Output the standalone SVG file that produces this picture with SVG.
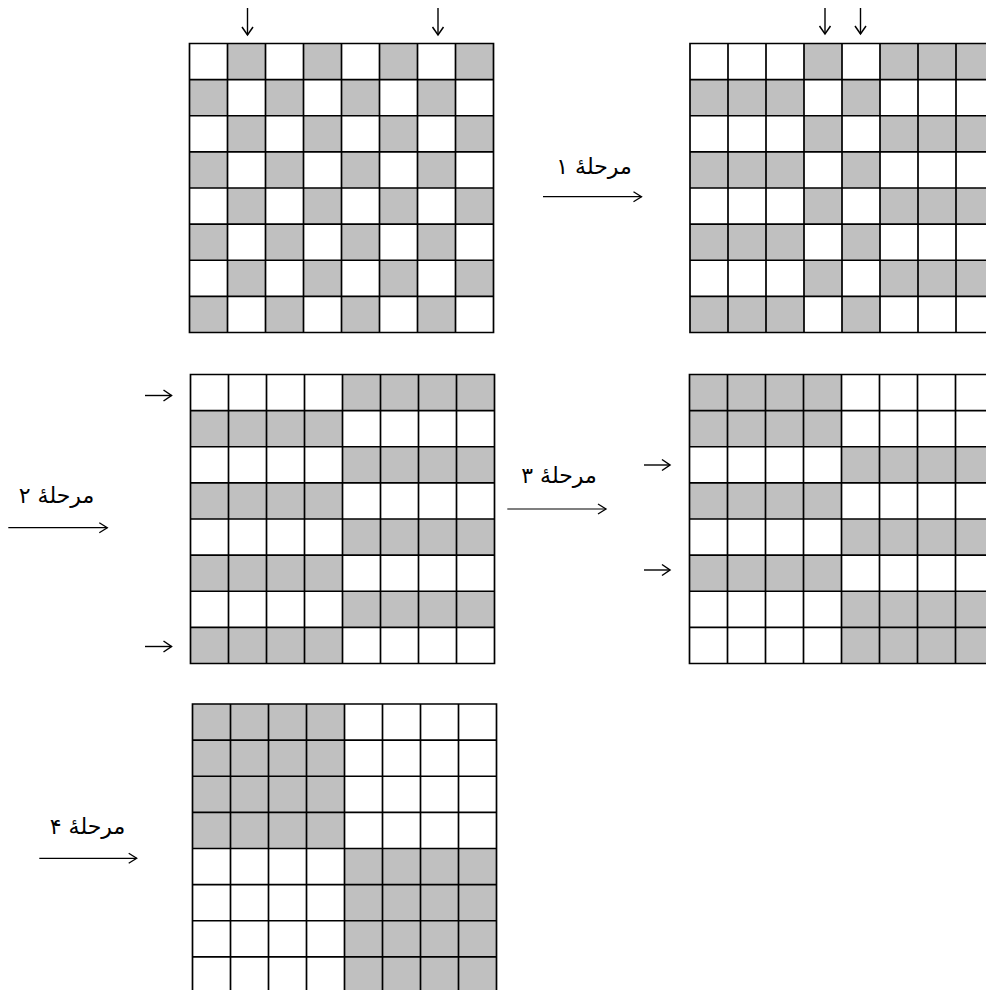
<svg xmlns="http://www.w3.org/2000/svg" width="986" height="990" viewBox="0 0 986 990">
<style>
.g{fill:#c0c0c0}
.ln{fill:none;stroke:#000;stroke-width:1.7}
.ar{fill:none;stroke:#000;stroke-width:1.2;marker-end:url(#ah)}
.sa{fill:none;stroke:#000;stroke-width:1.4;marker-end:url(#ah2)}
.lb{font-family:"DejaVu Sans","Noto Sans",sans-serif;font-size:22px;fill:#000;text-anchor:middle}
</style>
<defs>
<marker id="ah" markerUnits="userSpaceOnUse" markerWidth="12" markerHeight="12" refX="9" refY="6" orient="auto"><path d="M1,1 L9,6 L1,11" fill="none" stroke="#000" stroke-width="1.3"/></marker>
<marker id="ah2" markerUnits="userSpaceOnUse" markerWidth="12" markerHeight="14" refX="9" refY="7" orient="auto"><path d="M1,1.5 L9,7 L1,12.5" fill="none" stroke="#000" stroke-width="1.5"/></marker>
<path id="lines" class="ln" d="M0,0H304V289H0Z M38,0V289M76,0V289M114,0V289M152,0V289M190,0V289M228,0V289M266,0V289 M0,36.125H304M0,72.25H304M0,108.375H304M0,144.5H304M0,180.625H304M0,216.75H304M0,252.875H304"/>
<g id="ckA" class="g"><rect x="38" width="38" height="36.125"/><rect x="114" width="38" height="36.125"/><rect x="190" width="38" height="36.125"/><rect x="266" width="38" height="36.125"/></g>
<g id="ckB" class="g"><rect x="0" width="38" height="36.125"/><rect x="76" width="38" height="36.125"/><rect x="152" width="38" height="36.125"/><rect x="228" width="38" height="36.125"/></g>
<g id="s2A" class="g"><rect x="114" width="38" height="36.125"/><rect x="190" width="114" height="36.125"/></g>
<g id="s2B" class="g"><rect x="0" width="114" height="36.125"/><rect x="152" width="38" height="36.125"/></g>
<rect id="hL" class="g" x="0" width="152" height="36.125"/>
<rect id="hR" class="g" x="152" width="152" height="36.125"/>
</defs>
<rect width="986" height="990" fill="#fff"/>

<g id="grid0" transform="translate(189.5,43.5)">
<use href="#ckA" y="0"/><use href="#ckB" y="36.125"/><use href="#ckA" y="72.25"/><use href="#ckB" y="108.375"/>
<use href="#ckA" y="144.5"/><use href="#ckB" y="180.625"/><use href="#ckA" y="216.75"/><use href="#ckB" y="252.875"/>
<use href="#lines"/>
</g>

<g id="grid1" transform="translate(690,43.5)">
<use href="#s2A" y="0"/><use href="#s2B" y="36.125"/><use href="#s2A" y="72.25"/><use href="#s2B" y="108.375"/>
<use href="#s2A" y="144.5"/><use href="#s2B" y="180.625"/><use href="#s2A" y="216.75"/><use href="#s2B" y="252.875"/>
<use href="#lines"/>
</g>

<g id="grid2" transform="translate(190.5,374.5)">
<use href="#hR" y="0"/><use href="#hL" y="36.125"/><use href="#hR" y="72.25"/><use href="#hL" y="108.375"/>
<use href="#hR" y="144.5"/><use href="#hL" y="180.625"/><use href="#hR" y="216.75"/><use href="#hL" y="252.875"/>
<use href="#lines"/>
</g>

<g id="grid3" transform="translate(689.5,374.5)">
<use href="#hL" y="0"/><use href="#hL" y="36.125"/><use href="#hR" y="72.25"/><use href="#hL" y="108.375"/>
<use href="#hR" y="144.5"/><use href="#hL" y="180.625"/><use href="#hR" y="216.75"/><use href="#hR" y="252.875"/>
<use href="#lines"/>
</g>

<g id="grid4" transform="translate(192.5,704)">
<rect class="g" x="0" y="0" width="152" height="144.5"/>
<rect class="g" x="152" y="144.5" width="152" height="144.5"/>
<use href="#lines"/>
</g>

<g id="labels">
<text class="lb" x="594" y="174">مرحلۀ ۱</text>
<text class="lb" x="56.5" y="503">مرحلۀ ۲</text>
<text class="lb" x="559" y="483">مرحلۀ ۳</text>
<text class="lb" x="87.5" y="834">مرحلۀ ۴</text>
</g>

<g id="connectors">
<line class="ar" x1="543" y1="196.7" x2="641.5" y2="196.7"/>
<line class="ar" x1="8.3" y1="527.7" x2="107.3" y2="527.7"/>
<line class="ar" x1="507.3" y1="509" x2="606" y2="509"/>
<line class="ar" x1="39.3" y1="858.3" x2="136.7" y2="858.3"/>
<line class="sa" x1="247.5" y1="8" x2="247.5" y2="35"/>
<line class="sa" x1="438" y1="8" x2="438" y2="35"/>
<line class="sa" x1="825" y1="8" x2="825" y2="34"/>
<line class="sa" x1="860.5" y1="8" x2="860.5" y2="34"/>
<line class="sa" x1="145" y1="395.5" x2="171.5" y2="395.5"/>
<line class="sa" x1="145" y1="646.5" x2="171.5" y2="646.5"/>
<line class="sa" x1="644" y1="465" x2="670" y2="465"/>
<line class="sa" x1="644" y1="570" x2="670" y2="570"/>
</g>
</svg>
